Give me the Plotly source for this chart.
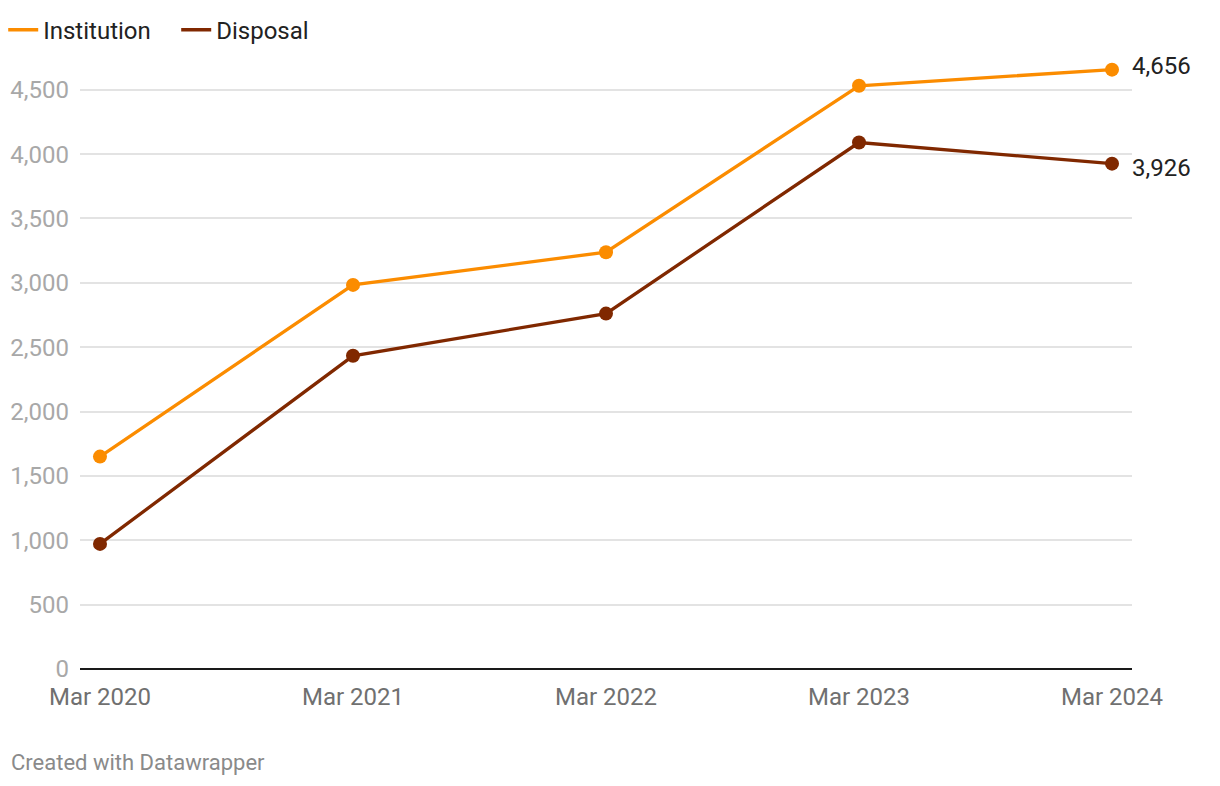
import plotly.graph_objects as go

categories = ["Mar 2020", "Mar 2021", "Mar 2022", "Mar 2023", "Mar 2024"]
institution = [1650, 2984, 3238, 4531, 4656]
disposal = [972, 2433, 2761, 4090, 3926]
y_ticks = [0, 500, 1000, 1500, 2000, 2500, 3000, 3500, 4000, 4500]

xs = list(range(len(categories)))
ORANGE = "#fb8c00"
BROWN = "#802800"

fig = go.Figure()
for name, vals, col in (("Institution", institution, ORANGE), ("Disposal", disposal, BROWN)):
    fig.add_trace(go.Scatter(x=xs, y=vals, name=name, mode="lines+markers", showlegend=False,
                             line=dict(color=col, width=3.3), marker=dict(size=14, color=col),
                             cliponaxis=False))
    fig.add_trace(go.Scatter(x=[None], y=[None], name=name, mode="lines",
                             line=dict(color=col, width=3.5)))

for vals, dy in ((institution, 4), (disposal, -4)):
    fig.add_annotation(x=xs[-1], y=vals[-1], text=f"{vals[-1]:,}", showarrow=False,
                       xanchor="left", yanchor="middle", xshift=18, yshift=dy,
                       font=dict(family="Roboto", size=24, color="#222222"))

fig.add_annotation(x=0, y=0, xref="paper", yref="paper", xshift=-71, yshift=-93,
                   text="Created with Datawrapper", showarrow=False, xanchor="left", yanchor="middle",
                   font=dict(family="Roboto", size=22, color="#8a8a8a"))

fig.update_layout(
    width=1220, height=786,
    margin=dict(l=80, r=88, t=64, b=117, autoexpand=False),
    paper_bgcolor="white", plot_bgcolor="white",
    font=dict(family="Roboto"),
    showlegend=True,
    legend=dict(orientation="h", x=-0.073, y=1.056, xanchor="left", yanchor="middle",
                font=dict(size=24, color="#222222"), entrywidth=128, entrywidthmode="pixels",
                traceorder="normal", tracegroupgap=0),
    xaxis=dict(range=[-0.079, 4.079], tickvals=xs, ticktext=categories, automargin=False,
               showgrid=False, zeroline=False, showline=False, ticks="",
               ticklabelstandoff=11,
               tickfont=dict(size=24, color="#707070")),
    yaxis=dict(range=[0, 4700], tickvals=y_ticks, ticktext=[f"{v:,}" for v in y_ticks],
               automargin=False,
               showgrid=True, gridcolor="#e3e3e3", gridwidth=1.5,
               zeroline=True, zerolinecolor="#1a1a1a", zerolinewidth=2,
               showline=False, ticks="", ticklabelstandoff=10,
               tickfont=dict(size=24, color="#a8a8a8")),
)

fig.write_html("out.html")
